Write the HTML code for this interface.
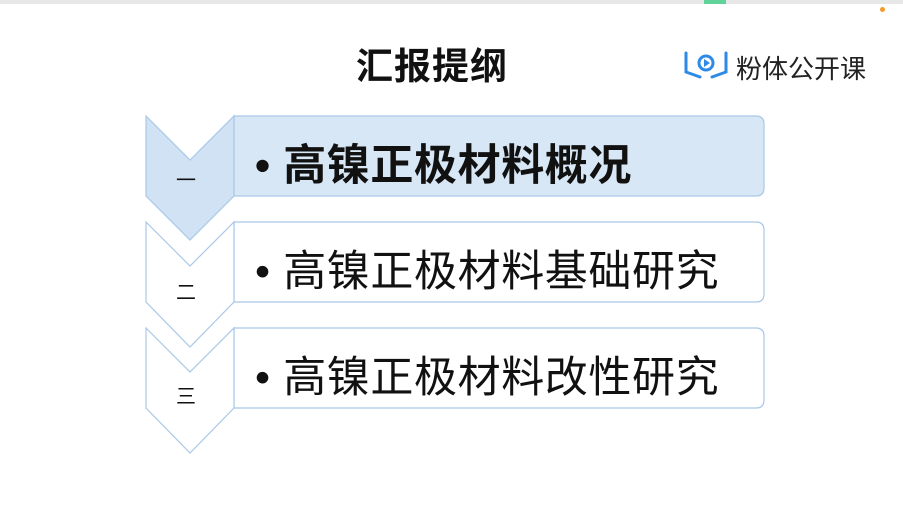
<!DOCTYPE html>
<html><head><meta charset="utf-8"><style>
body{margin:0;width:903px;height:518px;background:#fff;overflow:hidden;position:relative;font-family:"Liberation Sans","Noto Sans CJK SC",sans-serif;}
.t{position:absolute;white-space:nowrap;color:#111;}
</style></head><body>
<div style="position:absolute;left:0;top:0;width:903px;height:4px;background:#e8e8e8"></div>
<div style="position:absolute;left:704px;top:0;width:22px;height:4px;background:#5fd39a"></div>
<div style="position:absolute;left:880px;top:7px;width:5px;height:5px;border-radius:50%;background:#f39a2a"></div>
<svg width="903" height="518" style="position:absolute;left:0;top:0">
<g stroke="#a9c8e8" stroke-width="1.2">
<path d="M234 328 H756 Q764 328 764 336 V400 Q764 408 756 408 H234 Z" fill="#fff"/>
<path d="M234 222 H756 Q764 222 764 230 V294 Q764 302 756 302 H234 Z" fill="#fff"/>
<path d="M234 116 H756 Q764 116 764 124 V188 Q764 196 756 196 H234 Z" fill="#d8e7f6"/>
<polygon points="146,328 190,372 234,328 234,408 190,453 146,408" fill="#fff"/>
<polygon points="146,222 190,266 234,222 234,302 190,347 146,302" fill="#fff"/>
<polygon points="146,116 190,160 234,116 234,196 190,240 146,196" fill="#d0e2f4"/>
</g>
<g fill="none" stroke="#2d8ae6" stroke-width="3" stroke-linecap="round">
<path d="M686 53 V72 L700 77"/><path d="M726 53 V72 L712 77"/>
<circle cx="706" cy="63" r="7"/>
</g>
<polygon points="704,59 704,67 710,63" fill="#2d8ae6"/>
</svg>
<div class="t" style="left:356px;top:36px;font-size:37px;font-weight:bold;letter-spacing:1px;">汇报提纲</div>
<div class="t" style="left:736px;top:49px;font-size:26px;color:#222;">粉体公开课</div>
<div class="t" style="left:176px;top:164px;font-size:20px;">一</div>
<div class="t" style="left:176px;top:276px;font-size:20px;">二</div>
<div class="t" style="left:176px;top:380px;font-size:20px;">三</div>
<div class="t" style="left:255px;top:131px;font-size:43px;font-weight:bold;letter-spacing:0.6px;">• 高镍正极材料概况</div>
<div class="t" style="left:255px;top:237px;font-size:43px;letter-spacing:0.6px;">• 高镍正极材料基础研究</div>
<div class="t" style="left:255px;top:343px;font-size:43px;letter-spacing:0.6px;">• 高镍正极材料改性研究</div>
</body></html>
